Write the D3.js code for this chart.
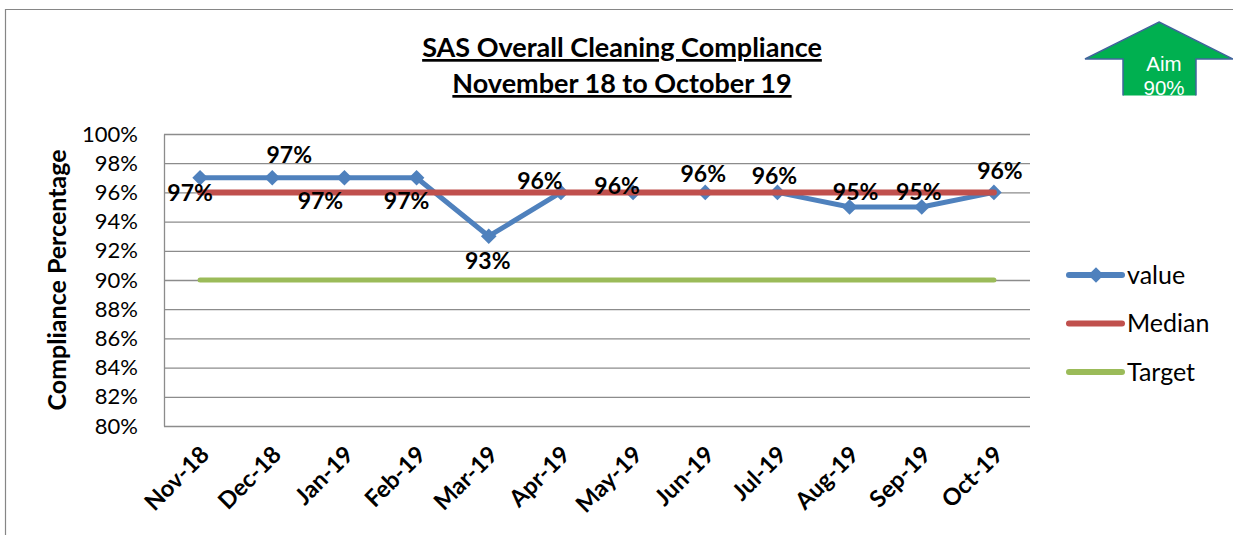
<!DOCTYPE html>
<html>
<head>
<meta charset="utf-8">
<script src="https://cdn.jsdelivr.net/npm/d3@7"></script>
<style>
  body { margin: 0; background: #fff; }
  svg { display: block; font-family: Lato, "Open Sans", sans-serif; }
</style>
</head>
<body>
<div id="chart"></div>
<script>
// data
const months = ['Nov-18', 'Dec-18', 'Jan-19', 'Feb-19', 'Mar-19', 'Apr-19', 'May-19', 'Jun-19', 'Jul-19', 'Aug-19', 'Sep-19', 'Oct-19'];
const values = [0.97, 0.97, 0.97, 0.97, 0.93, 0.96, 0.96, 0.96, 0.96, 0.95, 0.95, 0.96];
const median = [0.96, 0.96, 0.96, 0.96, 0.96, 0.96, 0.96, 0.96, 0.96, 0.96, 0.96, 0.96];
const target = [0.90, 0.90, 0.90, 0.90, 0.90, 0.90, 0.90, 0.90, 0.90, 0.90, 0.90, 0.90];
const yTicks = [0.80, 0.82, 0.84, 0.86, 0.88, 0.90, 0.92, 0.94, 0.96, 0.98, 1.00];
const seriesNames = ['value', 'Median', 'Target'];

// where each data label sits relative to its point (like excel's manual placement)
const labelOffsets = [[-10, 15], [17, -23], [-24, 23], [-10, 23], [-1, 25], [-21, -11],
  [-16, -6], [-2, -18], [-3, -16], [6, -15], [-3, -15], [6, -21]];

const width = 1233;
const height = 535;
const plot = { left: 164, right: 1030, top: 134, bottom: 426 };
const colors = { value: '#4F81BD', Median: '#C0504D', Target: '#9BBB59' };

const svg = d3.select('#chart').append('svg')
  .attr('width', width)
  .attr('height', height);

// outer chart border (only top & left visible in the crop)
svg.append('path')
  .attr('d', `M5.5,${height} V9.5 H${width}`)
  .attr('fill', 'none')
  .attr('stroke', '#868686')
  .attr('stroke-width', 1.2);

/* -------- title -------- */
const title = svg.append('g').attr('font-weight', 'bold').attr('text-anchor', 'middle')
  .attr('text-decoration', 'underline').attr('font-size', 27).attr('fill', '#000');
title.append('text').attr('x', 622).attr('y', 57).text('SAS Overall Cleaning Compliance');
title.append('text').attr('x', 622).attr('y', 93).text('November 18 to October 19');

/* -------- scales & axes -------- */
const x = d3.scalePoint().domain(months).range([plot.left, plot.right]).padding(0.5);
const y = d3.scaleLinear().domain([0.8, 1]).range([plot.bottom, plot.top]);

// gridlines
svg.append('g')
  .attr('transform', `translate(${plot.left},0)`)
  .call(d3.axisLeft(y).tickValues(yTicks).tickSize(-(plot.right - plot.left)).tickFormat(''))
  .call((g) => g.select('.domain').remove())
  .call((g) => g.selectAll('line').attr('stroke', '#8c8c8c').attr('stroke-width', 1.3));

// y axis
svg.append('g')
  .attr('transform', `translate(${plot.left},0)`)
  .call(d3.axisLeft(y).tickValues(yTicks).tickSize(0).tickPadding(26).tickFormat(d3.format('.0%')))
  .call((g) => g.select('.domain').attr('stroke', '#8c8c8c').attr('stroke-width', 1.3))
  .call((g) => g.selectAll('text').attr('font-size', 22).attr('fill', '#000')
    .attr('font-family', 'Lato, sans-serif'));

// x axis labels
svg.append('g')
  .attr('transform', `translate(0,${plot.bottom})`)
  .call(d3.axisBottom(x).tickSize(0).tickFormat((d) => d))
  .call((g) => g.select('.domain').remove())
  .call((g) => g.selectAll('text')
    .attr('font-size', 23.5)
    .attr('font-weight', 'bold')
    .attr('font-family', 'Lato, sans-serif')
    .attr('fill', '#000')
    .attr('text-anchor', 'end')
    .attr('dy', 0)
    .attr('transform', 'translate(10,30) rotate(-45)')
    .attr('y', 0)
    .attr('x', 0));

// y axis title
svg.append('text')
  .attr('transform', `translate(66,${(plot.top + plot.bottom) / 2}) rotate(-90)`)
  .attr('text-anchor', 'middle')
  .attr('font-weight', 'bold')
  .attr('font-size', 25)
  .text('Compliance Percentage');

/* -------- series (excel order: value, Median, Target) -------- */
const line = d3.line().x((d, i) => x(months[i])).y((d) => y(d));
const diamond = d3.symbol().type(d3.symbolDiamond2).size(155);

svg.append('path').datum(values)
  .attr('d', line).attr('fill', 'none').attr('stroke', colors.value)
  .attr('stroke-width', 5).attr('stroke-linejoin', 'round');

svg.append('g').selectAll('path')
  .data(values)
  .enter()
  .append('path')
  .attr('d', diamond)
  .attr('transform', (d, i) => `translate(${x(months[i])},${y(d)})`)
  .attr('fill', colors.value);

svg.append('path').datum(median)
  .attr('d', line).attr('fill', 'none').attr('stroke', colors.Median)
  .attr('stroke-width', 6).attr('stroke-linecap', 'round');

svg.append('path').datum(target)
  .attr('d', line).attr('fill', 'none').attr('stroke', colors.Target)
  .attr('stroke-width', 5).attr('stroke-linecap', 'round');

// data labels
svg.append('g').selectAll('text')
  .data(values)
  .enter()
  .append('text')
  .attr('x', (d, i) => x(months[i]) + labelOffsets[i][0])
  .attr('y', (d, i) => y(d) + labelOffsets[i][1])
  .attr('dy', '0.35em')
  .attr('text-anchor', 'middle')
  .attr('font-weight', 'bold')
  .attr('font-size', 23)
  .text((d) => d3.format('.0%')(d));

/* -------- legend -------- */
const legend = svg.append('g').attr('transform', 'translate(1069,275)');
const legItem = legend.selectAll('g')
  .data(seriesNames)
  .enter()
  .append('g')
  .attr('transform', (d, i) => `translate(0,${i * 48.5})`);

legItem.append('line')
  .attr('x1', 0).attr('x2', 53).attr('y1', 0).attr('y2', 0)
  .attr('stroke', (d) => colors[d])
  .attr('stroke-width', 6)
  .attr('stroke-linecap', 'round');

legItem.filter((d) => d === 'value').append('path')
  .attr('d', diamond)
  .attr('transform', 'translate(27,0)')
  .attr('fill', colors.value);

legItem.append('text')
  .attr('x', 58)
  .attr('dy', '0.35em')
  .attr('font-size', 25)
  .text((d) => d);

/* -------- aim arrow -------- */
const aim = svg.append('g');
aim.append('clipPath').attr('id', 'aimclip')
  .append('rect').attr('x', 1080).attr('y', 15).attr('width', 160).attr('height', 80.5);
const arrowPts = [[1159, 22], [1233, 59], [1196, 59], [1196, 110], [1123, 110], [1123, 59], [1085, 59]];
aim.append('path')
  .attr('clip-path', 'url(#aimclip)')
  .attr('d', `${d3.line()(arrowPts)}Z`)
  .attr('fill', '#00B050')
  .attr('stroke', '#41659C')
  .attr('stroke-width', 1.5)
  .attr('stroke-linejoin', 'miter');
const aimText = aim.append('g').attr('clip-path', 'url(#aimclip)')
  .attr('fill', '#fff').attr('font-family', '"Liberation Sans", Arial, sans-serif')
  .attr('font-size', 20.5).attr('text-anchor', 'middle');
aimText.append('text').attr('x', 1164).attr('y', 71).text('Aim');
aimText.append('text').attr('x', 1164).attr('y', 95).text('90%');
</script>
</body>
</html>
